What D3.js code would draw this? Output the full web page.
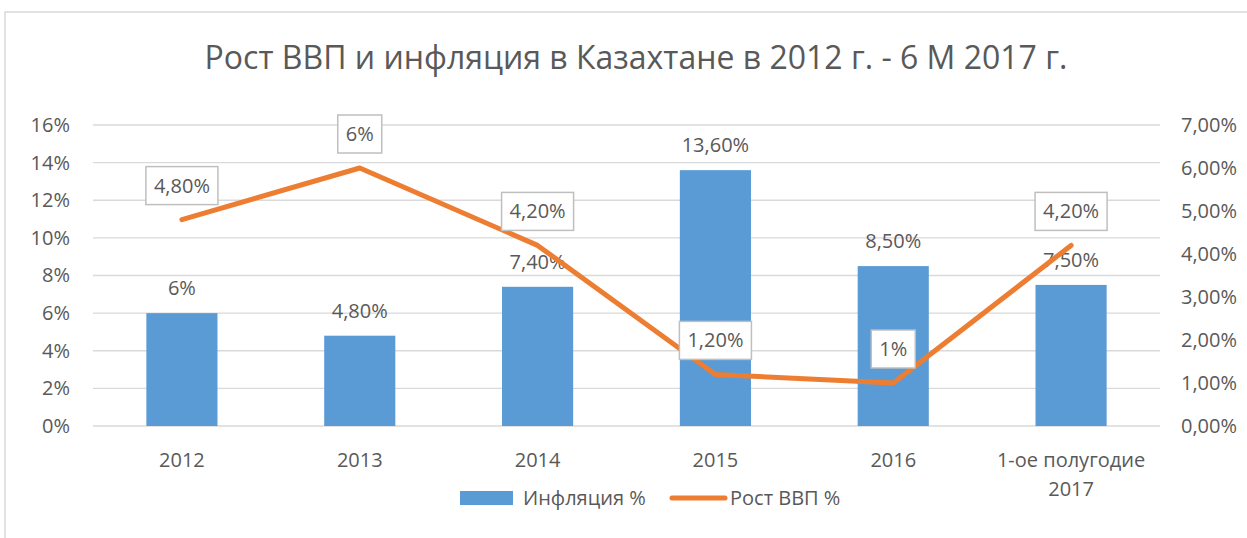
<!DOCTYPE html>
<html>
<head>
<meta charset="utf-8">
<script src="https://cdn.jsdelivr.net/npm/d3@7"></script>
<style>
  body { margin: 0; background: #fff; }
  svg { display: block; }
</style>
</head>
<body>
<svg width="1247" height="538"></svg>
<script>
// data
const years = ["2012", "2013", "2014", "2015", "2016", "1-ое полугодие 2017"];
const inflation = [6, 4.8, 7.4, 13.6, 8.5, 7.5];
const inflationLabels = ["6%", "4,80%", "7,40%", "13,60%", "8,50%", "7,50%"];
const gdp = [4.8, 6, 4.2, 1.2, 1.0, 4.2];
const gdpLabels = ["4,80%", "6%", "4,20%", "1,20%", "1%", "4,20%"];
const leftTicks = [0, 2, 4, 6, 8, 10, 12, 14, 16];
const rightTicks = [0, 1, 2, 3, 4, 5, 6, 7];

const textColor = "#595959";
const font = "'Open Sans', sans-serif";

const svg = d3.select("svg");

// outer chart frame
svg.append("rect")
   .attr("x", 5).attr("y", 12).attr("width", 1400).attr("height", 700)
   .attr("fill", "none").attr("stroke", "#d9d9d9").attr("stroke-width", 1.5);

svg.append("text")
   .attr("x", 636).attr("y", 69)
   .attr("text-anchor", "middle")
   .attr("font-family", font).attr("font-size", 32)
   .attr("fill", textColor)
   .text("Рост ВВП и инфляция в Казахтане в 2012 г. - 6 М 2017 г.");

const plotL = 93, plotR = 1160, plotT = 125, plotB = 426;

var x = d3.scaleBand().domain(years).range([plotL, plotR])
          .paddingInner(0.6).paddingOuter(0.3);
var yL = d3.scaleLinear().domain([0, 16]).range([plotB, plotT]);
var yR = d3.scaleLinear().domain([0, 7]).range([plotB, plotT]);
const cx = i => x(years[i]) + x.bandwidth() / 2;

// gridlines
svg.append("g")
   .selectAll("line")
   .data(leftTicks)
   .enter()
   .append("line")
   .attr("x1", plotL).attr("x2", plotR)
   .attr("y1", d => yL(d)).attr("y2", d => yL(d))
   .attr("stroke", "#d9d9d9").attr("stroke-width", 1.3);

// left axis
const axL = svg.append("g")
   .attr("transform", "translate(" + (plotL - 23) + ",0)")
   .call(d3.axisLeft(yL).tickValues(leftTicks).tickSize(0).tickPadding(0)
           .tickFormat(d => d + "%"));
axL.select(".domain").remove();
axL.selectAll("text").attr("font-family", font).attr("font-size", 20)
   .attr("fill", textColor);

// right axis
const axR = svg.append("g")
   .attr("transform", "translate(" + (plotR + 21) + ",0)")
   .call(d3.axisRight(yR).tickValues(rightTicks).tickSize(0).tickPadding(0)
           .tickFormat(d => d3.format(".2f")(d).replace(".", ",") + "%"));
axR.select(".domain").remove();
axR.selectAll("text").attr("font-family", font).attr("font-size", 20)
   .attr("fill", textColor);

// bars
svg.append("g")
   .selectAll("rect")
   .data(inflation)
   .enter()
   .append("rect")
   .attr("x", (d, i) => x(years[i]))
   .attr("y", d => yL(d))
   .attr("width", x.bandwidth())
   .attr("height", d => yL(0) - yL(d))
   .attr("fill", "#5b9bd5");

// bar labels
svg.append("g")
   .selectAll("text")
   .data(inflation)
   .enter()
   .append("text")
   .attr("x", (d, i) => cx(i))
   .attr("y", d => yL(d) - 18)
   .attr("text-anchor", "middle")
   .attr("font-family", font).attr("font-size", 20)
   .attr("fill", textColor)
   .text((d, i) => inflationLabels[i]);

// x labels
const xl = svg.append("g")
   .selectAll("text")
   .data(years)
   .enter()
   .append("text")
   .attr("y", 467)
   .attr("text-anchor", "middle")
   .attr("font-family", font).attr("font-size", 20)
   .attr("fill", textColor);
xl.each(function(d, i) {
    const parts = d === "1-ое полугодие 2017" ? ["1-ое полугодие", "2017"] : [d];
    d3.select(this).selectAll("tspan")
      .data(parts).enter().append("tspan")
      .attr("x", cx(i))
      .attr("dy", (p, j) => j === 0 ? 0 : 29)
      .text(p => p);
});

// GDP line
const line = d3.line()
   .x((d, i) => cx(i))
   .y(d => yR(d));

svg.append("path")
   .datum(gdp)
   .attr("d", line)
   .attr("fill", "none")
   .attr("stroke", "#ed7d31").attr("stroke-width", 5)
   .attr("stroke-linecap", "round").attr("stroke-linejoin", "round");

// boxed line labels
const lab = svg.append("g")
   .selectAll("g")
   .data(gdp)
   .enter()
   .append("g")
   .attr("transform", (d, i) => "translate(" + cx(i) + "," + (yR(d) - 34) + ")");

lab.append("text")
   .attr("text-anchor", "middle")
   .attr("y", 7)
   .attr("font-family", font).attr("font-size", 20)
   .attr("fill", textColor)
   .text((d, i) => gdpLabels[i]);

lab.insert("rect", "text")
   .each(function() {
       const bb = this.parentNode.querySelector("text").getBBox();
       d3.select(this)
         .attr("x", bb.x - 8).attr("y", -19)
         .attr("width", bb.width + 16).attr("height", 38);
   })
   .attr("fill", "#fff").attr("stroke", "#bfbfbf").attr("stroke-width", 1.5);

// legend
const leg = svg.append("g").attr("transform", "translate(460,498)");
leg.append("rect")
   .attr("x", 0).attr("y", -7).attr("width", 53).attr("height", 14)
   .attr("fill", "#5b9bd5");
leg.append("text")
   .attr("x", 63).attr("y", 7)
   .attr("font-family", font).attr("font-size", 20)
   .attr("fill", textColor)
   .text("Инфляция %");
leg.append("line")
   .attr("x1", 212).attr("x2", 265).attr("y1", 0).attr("y2", 0)
   .attr("stroke", "#ed7d31").attr("stroke-width", 5)
   .attr("stroke-linecap", "round");
leg.append("text")
   .attr("x", 270).attr("y", 7)
   .attr("font-family", font).attr("font-size", 20)
   .attr("fill", textColor)
   .text("Рост ВВП %");
</script>
</body>
</html>
